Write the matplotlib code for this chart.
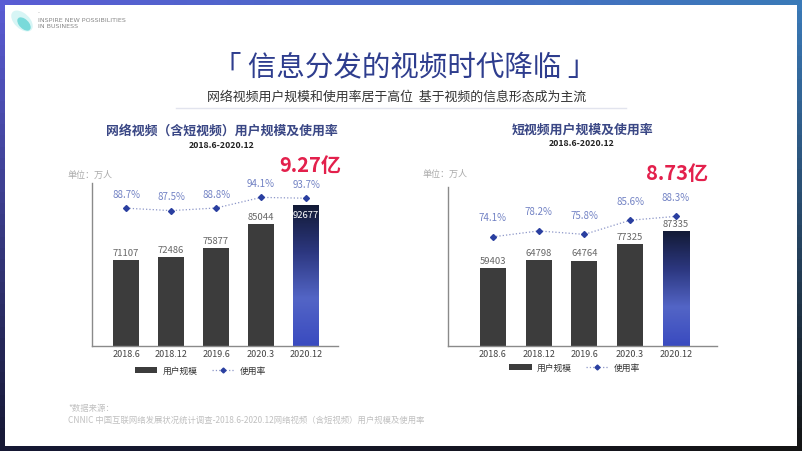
import numpy as np
import matplotlib
matplotlib.use("Agg")
import matplotlib.pyplot as plt
from matplotlib.colors import LinearSegmentedColormap
from matplotlib.patches import Rectangle, Ellipse, Patch
from matplotlib.lines import Line2D

plt.rcParams['font.family'] = ['Noto Sans CJK SC', 'DejaVu Sans']

# данные
periods = ["2018.6", "2018.12", "2019.6", "2020.3", "2020.12"]
video_users = [71107, 72486, 75877, 85044, 92677]
video_rate = [88.7, 87.5, 88.8, 94.1, 93.7]
short_users = [59403, 64798, 64764, 77325, 87335]
short_rate = [74.1, 78.2, 75.8, 85.6, 88.3]

W, H = 802, 451
fig = plt.figure(figsize=(W / 100, H / 100), dpi=100)

# рамка слайда с градиентом
bg = fig.add_axes([0, 0, 1, 1])
bg.set_axis_off()
tl = np.array([0x5a, 0x5c, 0xd4]) / 255
tr = np.array([0x3a, 0x7a, 0xb8]) / 255
bl = np.array([0x16, 0x18, 0x34]) / 255
br = np.array([0x14, 0x14, 0x14]) / 255
u = np.linspace(0, 1, 60)[None, :, None]
v = np.linspace(0, 1, 40)[:, None, None]
grid = (1 - v) * ((1 - u) * tl + u * tr) + v * ((1 - u) * bl + u * br)
bg.imshow(grid, extent=[0, 1, 0, 1], aspect='auto', origin='upper')
bg.set_xlim(0, 1)
bg.set_ylim(0, 1)
bg.add_patch(Rectangle((5 / W, 5 / H), 1 - 10 / W, 1 - 10 / H,
                       facecolor='white', edgecolor='none'))

# логотип
bg.add_patch(Ellipse((22 / W, 1 - 21 / H), 18 / W, 22 / H, angle=20,
                     facecolor='#8fe3e3', alpha=0.35, edgecolor='none'))
bg.add_patch(Ellipse((24 / W, 1 - 24 / H), 11 / W, 14 / H, angle=20,
                     facecolor='#2cc4c4', alpha=0.55, edgecolor='none'))
fig.text(38 / W, 1 - 13 / H, "-", fontsize=4, color='#999', va='center')
fig.text(38 / W, 1 - 20 / H, "INSPIRE NEW POSSIBILITIES", fontsize=4.6,
         color='#888', va='center', family='DejaVu Sans')
fig.text(38 / W, 1 - 27 / H, "IN BUSINESS", fontsize=4.6,
         color='#888', va='center', family='DejaVu Sans')

# заголовки
fig.text(0.505, 1 - 67 / H, "「 信息分发的视频时代降临 」", fontsize=20.5,
         color='#2e3d8e', ha='center', va='center')
fig.text(0.495, 1 - 97 / H, "网络视频用户规模和使用率居于高位  基于视频的信息形态成为主流",
         fontsize=9.3, color='#333333', ha='center', va='center')
bg.plot([0.22, 0.78], [1 - 108 / H, 1 - 108 / H], color='#e2e4ee', lw=1)

bar_cmap = LinearSegmentedColormap.from_list(
    'bar', ['#3a4bc0', '#5365c6', '#2c377f', '#121a35'])


def draw_chart(rect, users, rate, ylim, rlim, xlim, pct_off, inside_last,
               legend_x, legend_y):
    ax = fig.add_axes(rect)
    x = np.arange(len(periods))
    width = 0.57
    bars = ax.bar(x, users, width, color='#3c3c3c', zorder=2)
    last = bars[-1]
    last.set_facecolor('none')
    grad = np.linspace(0, 1, 100)[:, None]
    im = ax.imshow(grad, extent=[x[-1] - width / 2, x[-1] + width / 2,
                                 ylim[0], users[-1]],
                   aspect='auto', cmap=bar_cmap, origin='lower', zorder=2)
    im.set_clip_path(last)
    ax.set_xlim(*xlim)
    ax.set_ylim(*ylim)

    for i, val in enumerate(users):
        if i == len(users) - 1 and inside_last:
            ax.annotate(str(val), (x[i], val), xytext=(0, -4.5),
                        textcoords='offset points', ha='center', va='top',
                        fontsize=6.8, color='white', zorder=4)
        else:
            ax.annotate(str(val), (x[i], val), xytext=(0, 1.5),
                        textcoords='offset points', ha='center', va='bottom',
                        fontsize=6.8, color='#666666', zorder=4)

    for s in ['top', 'right']:
        ax.spines[s].set_visible(False)
    for s in ['left', 'bottom']:
        ax.spines[s].set_color('#8a8a8a')
        ax.spines[s].set_linewidth(1)
    ax.set_yticks([])
    ax.set_xticks(x)
    ax.set_xticklabels(periods)
    ax.tick_params(axis='x', length=0, pad=3, labelsize=6.5, labelcolor='#444')
    ax.patch.set_alpha(0)

    ax2 = ax.twinx()
    ax2.plot(x, rate, linestyle=':', color='#8c96c8', lw=0.9, marker='D',
             markersize=3, markerfacecolor='#2a3fa0',
             markeredgecolor='#2a3fa0', zorder=3)
    ax2.set_ylim(*rlim)
    ax2.set_axis_off()
    for i, r in enumerate(rate):
        ax2.annotate(f"{r}%", (x[i], r), xytext=(0, pct_off),
                     textcoords='offset points', ha='center', va='center',
                     fontsize=7, color='#7282c4')

    handles = [Patch(facecolor='#3c3c3c', edgecolor='none'),
               Line2D([0], [0], linestyle=':', color='#8c96c8', lw=0.9,
                      marker='D', markersize=2.5, markevery=[1],
                      markerfacecolor='#2a3fa0', markeredgecolor='#2a3fa0')]
    ax.legend(handles, ["用户规模", "使用率"], loc='center',
              bbox_to_anchor=(legend_x, legend_y), ncol=2, frameon=False,
              fontsize=6.3, handlelength=2.6, handleheight=0.7,
              columnspacing=1.6, handletextpad=0.6, labelcolor='#333')
    return ax


draw_chart([92 / W, 1 - 346 / H, 246 / W, 163 / H],
           video_users, video_rate, (37600, 101200), (19.8, 101.3),
           (-0.76, 4.71), 9.5, True, 0.44, -0.153)
draw_chart([448 / W, 1 - 346 / H, 269 / W, 159 / H],
           short_users, short_rate, (0, 120500), (-1.7, 108.7),
           (-0.98, 4.9), 13.5, False, 0.47, -0.138)

# подписи графиков
for cx, cy, title in [(222, 131, "网络视频（含短视频）用户规模及使用率"),
                      (582, 130, "短视频用户规模及使用率")]:
    fig.text(cx / W, 1 - cy / H, title, fontsize=9.3, fontweight='bold',
             color='#3a4785', ha='center', va='center')
    fig.text(cx / W, 1 - (cy + 14) / H, "2018.6-2020.12", fontsize=6.3,
             fontweight='bold', color='#222', ha='center', va='center')

fig.text(68 / W, 1 - 175 / H, "单位：万人", fontsize=6.5, color='#aaaaaa',
         va='center')
fig.text(423 / W, 1 - 174 / H, "单位：万人", fontsize=6.5, color='#aaaaaa',
         va='center')

fig.text(310 / W, 1 - 165 / H, "9.27亿", fontsize=14.5, fontweight='bold',
         color='#e3204c', ha='center', va='center')
fig.text(677 / W, 1 - 173 / H, "8.73亿", fontsize=14.5, fontweight='bold',
         color='#e3204c', ha='center', va='center')

# источник
fig.text(68 / W, 1 - 409 / H, "*数据来源：", fontsize=6, color='#c0c0c0',
         va='center')
fig.text(68 / W, 1 - 420 / H,
         "CNNIC 中国互联网络发展状况统计调查-2018.6-2020.12网络视频（含短视频）用户规模及使用率",
         fontsize=6, color='#c0c0c0', va='center')

fig.savefig("out.png", dpi=100)
